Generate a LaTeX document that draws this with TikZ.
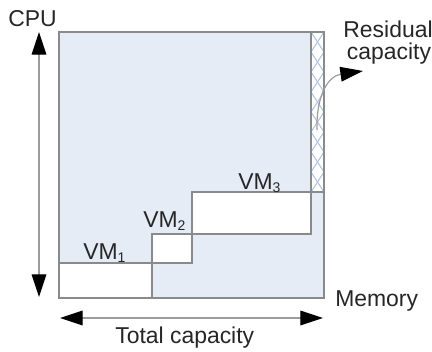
\documentclass[tikz,border=0pt]{standalone}
\usepackage{fontspec}
\setmainfont{Liberation Sans}
\usetikzlibrary{arrows.meta}
\definecolor{panel}{HTML}{E6ECF6}
\definecolor{edge}{HTML}{8A8A8A}
\definecolor{axisgray}{HTML}{9C9C9C}
\definecolor{hatch}{HTML}{B2C4E2}
\newcommand{\vmsub}[1]{\raisebox{-2.4pt}{\fontsize{10.5}{12}\selectfont #1}}
\begin{document}
\begin{tikzpicture}[x=0.75pt,y=-0.75pt,
  lbl/.style={font=\fontsize{17.2}{20}\selectfont, inner sep=0pt, text=black!85},
  box/.style={draw=edge, line width=0.8pt},
  axisarrow/.style={draw=axisgray, line width=0.9pt,
    -{Triangle[length=17pt,width=11pt,color=black]}},
  botharrow/.style={draw=axisgray, line width=0.9pt,
    {Triangle[length=17pt,width=11pt,color=black]}-{Triangle[length=17pt,width=11pt,color=black]}}]
\useasboundingbox (0,0) rectangle (432,351);

% total capacity area
\fill[panel] (59,32) rectangle (324,298);

% residual capacity strip with cross hatching
\fill[white] (311,32) rectangle (324,192);
\begin{scope}
  \clip (311,32) rectangle (324,192);
  \foreach \k in {0,...,7} {
    \pgfmathsetmacro{\ya}{32+20*\k}
    \pgfmathsetmacro{\yb}{52+20*\k}
    \draw[hatch, line width=0.8pt] (311,\ya) -- (324,\yb);
    \draw[hatch, line width=0.8pt] (324,\ya) -- (311,\yb);
  }
\end{scope}
\draw[box] (311,32) rectangle (324,192);

% virtual machines
\draw[box, fill=white] (59,263) rectangle (152,298);
\draw[box, fill=white] (152,234) rectangle (192,263);
\draw[box, fill=white] (192,192) rectangle (311,234);

% outline
\draw[box] (59,32) rectangle (324,298);

% axes
\coordinate (cpuTop) at (39,32);
\coordinate (cpuBot) at (39,297);
\draw[botharrow] (cpuBot) -- (cpuTop);
\coordinate (totL) at (60,318);
\coordinate (totR) at (323,318);
\draw[botharrow] (totL) -- (totR);

% pointer to residual capacity
\coordinate (resStart) at (317,130);
\coordinate (resTip) at (363,71);
\draw[axisarrow] (resStart) .. controls (316,96) and (328,76) .. (resTip);

% labels
\node[lbl, anchor=base west] (cpu) at (8,26) {CPU};
\node[lbl, anchor=base west] (mem) at (335,306) {Memory};
\node[lbl, anchor=base west] (tot) at (115,343) {Total capacity};
\node[lbl, anchor=base] (res1) at (388,37) {Residual};
\node[lbl, anchor=base] (res2) at (389,59) {capacity};
\node[lbl, anchor=base west] (vm1) at (83,259) {VM\vmsub{1}};
\node[lbl, anchor=base west] (vm2) at (143,227) {VM\vmsub{2}};
\node[lbl, anchor=base west] (vm3) at (238,189) {VM\vmsub{3}};
\end{tikzpicture}
\end{document}
